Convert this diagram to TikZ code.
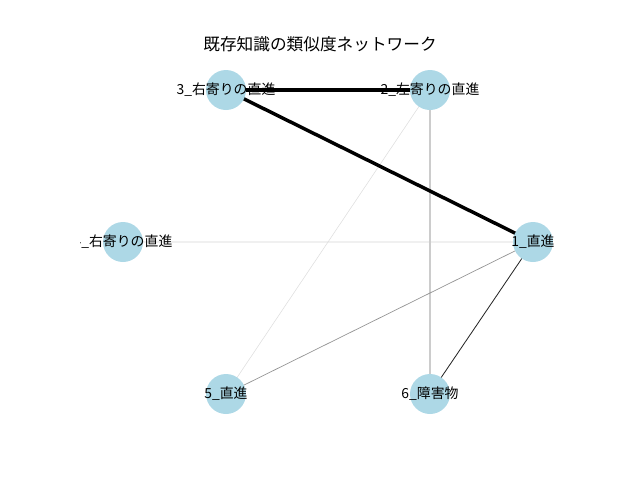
\documentclass[tikz,border=0pt]{standalone}
\usepackage{fontspec}
\setmainfont{Noto Sans CJK JP}
\usepackage{tikz}
\usetikzlibrary{backgrounds}

\definecolor{nodeblue}{HTML}{ADD8E6}
\tikzset{
	vertex/.style={circle, fill=nodeblue, inner sep=0pt, minimum size=28.8pt},
	vlabel/.style={inner sep=0pt, font=\fontsize{10pt}{12pt}\selectfont},
}

\begin{document}
\begin{tikzpicture}[x=0.72pt, y=-0.72pt]

\def\width{640}
\def\height{480}

\path [use as bounding box] (0,0) rectangle (\width,\height);

% TITLE
\node (title) at (320,44) {\fontsize{12pt}{14pt}\selectfont 既存知識の類似度ネットワーク};

\begin{scope}
\clip (80,57.6) rectangle (576,427.2);

% NODES
\node [vertex] (v1) at (533,242) {};
\node [vertex] (v2) at (430,90) {};
\node [vertex] (v3) at (226,90) {};
\node [vertex] (v4) at (123,242) {};
\node [vertex] (v5) at (226,394) {};
\node [vertex] (v6) at (430,394) {};

% EDGES
\begin{pgfonlayer}{background}
\draw [line width=0.9pt, color=black!6] (v4.center) -- (v1.center);
\draw [line width=0.4pt, color=black!13] (v2.center) -- (v5.center);
\draw [line width=1.3pt, color=black!20] (v2.center) -- (v6.center);
\draw [line width=0.5pt, color=black!42] (v5.center) -- (v1.center);
\draw [line width=0.6pt, color=black!85] (v6.center) -- (v1.center);
\draw [line width=2.5pt, color=black] (v3.center) -- (v2.center);
\draw [line width=2.5pt, color=black] (v3.center) -- (v1.center);
\end{pgfonlayer}

% LABELS
\node [vlabel] (l1) at (v1) {1\_直進};
\node [vlabel] (l2) at (v2) {2\_左寄りの直進};
\node [vlabel] (l3) at (v3) {3\_右寄りの直進};
\node [vlabel] (l4) at (v4) {4\_右寄りの直進};
\node [vlabel] (l5) at (v5) {5\_直進};
\node [vlabel] (l6) at (v6) {6\_障害物};
\end{scope}

\end{tikzpicture}
\end{document}
